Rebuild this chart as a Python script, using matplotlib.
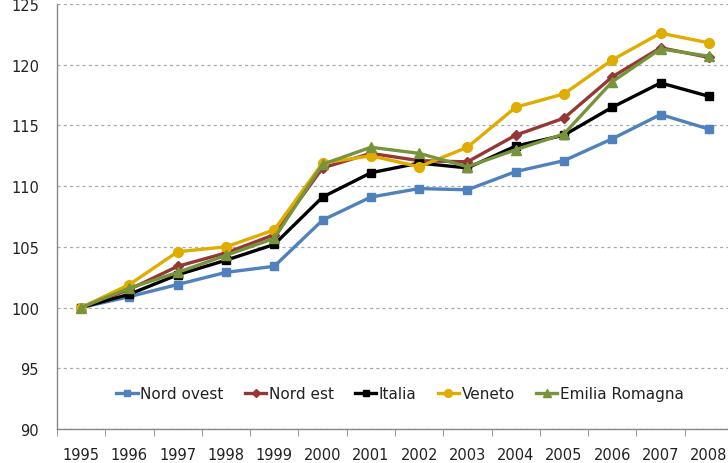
"""Index of value added, 1995 = 100: northern regions vs Italy."""

import matplotlib

matplotlib.use("Agg")
import matplotlib.pyplot as plt

YEARS = [str(y) for y in range(1995, 2009)]

NORD_OVEST = [100.0, 100.9, 101.9, 102.9, 103.4, 107.2, 109.1, 109.8, 109.7,
              111.2, 112.1, 113.9, 115.9, 114.7]
NORD_EST = [100.0, 101.5, 103.4, 104.5, 106.0, 111.5, 112.7, 112.1, 112.0,
            114.2, 115.6, 119.0, 121.4, 120.6]
ITALIA = [100.0, 101.1, 102.7, 103.9, 105.2, 109.1, 111.1, 111.9, 111.5,
          113.3, 114.2, 116.5, 118.5, 117.4]
VENETO = [100.0, 101.9, 104.6, 105.0, 106.4, 111.9, 112.5, 111.6, 113.2,
          116.5, 117.6, 120.4, 122.6, 121.8]
EMILIA_ROMAGNA = [100.0, 101.6, 102.9, 104.3, 105.7, 111.8, 113.2, 112.7, 111.6,
                  113.0, 114.3, 118.6, 121.3, 120.7]

SERIES = [
    ("Nord ovest", NORD_OVEST, "#4F81BD", "s", 6),
    ("Nord est", NORD_EST, "#953735", "D", 5.5),
    ("Italia", ITALIA, "#000000", "s", 6),
    ("Veneto", VENETO, "#E0AC00", "o", 7),
    ("Emilia Romagna", EMILIA_ROMAGNA, "#77933C", "^", 7.5),
]

W, H = 728, 464
fig = plt.figure(figsize=(W / 100, H / 100), dpi=100)
# plot area runs past the right edge, as in the exported sheet
ax = fig.add_axes([57 / W, 34 / H, 676 / W, 425 / H])

x = range(len(YEARS))
for name, values, color, marker, size in SERIES:
    ax.plot(x, values, color=color, lw=2.4, marker=marker, markersize=size,
            markeredgecolor=color, label=name, clip_on=False)

ax.set_xlim(-0.5, len(YEARS) - 0.5)
ax.set_ylim(90, 125)
ax.set_yticks(range(90, 126, 5))
ax.set_xticks(list(x))
ax.set_xticklabels(YEARS)
ax.set_xticks([i - 0.5 for i in range(len(YEARS) + 1)], minor=True)

ax.tick_params(axis="x", which="major", length=0, pad=13, labelsize=10.5,
               labelcolor="#222222")
ax.tick_params(axis="x", which="minor", length=5, direction="out",
               color="#888888")
ax.tick_params(axis="y", length=0, pad=13, labelsize=10.5, labelcolor="#222222")

ax.grid(axis="y", linestyle=(0, (2.5, 2.5)), color="#aaaaaa", lw=0.9)
ax.set_axisbelow(True)
for side in ("top", "right"):
    ax.spines[side].set_visible(False)
for side in ("left", "bottom"):
    ax.spines[side].set_color("#888888")
    ax.spines[side].set_linewidth(1.0)

ax.legend(loc="center", bbox_to_anchor=(343 / 676, 35 / 425),
          ncol=5, frameon=False, fontsize=11, handlelength=1.4,
          handletextpad=0.15, columnspacing=1.4, markerscale=0.8,
          labelcolor="#222222")

# title sits above the crop; only its descenders reach the top edge
fig.text(440 / W, 1.0 + 5 / H, "Valore aggiunto (1995 = 100)", ha="right",
         va="baseline", fontsize=11, fontweight="bold")

fig.savefig("out.png", dpi=100)
